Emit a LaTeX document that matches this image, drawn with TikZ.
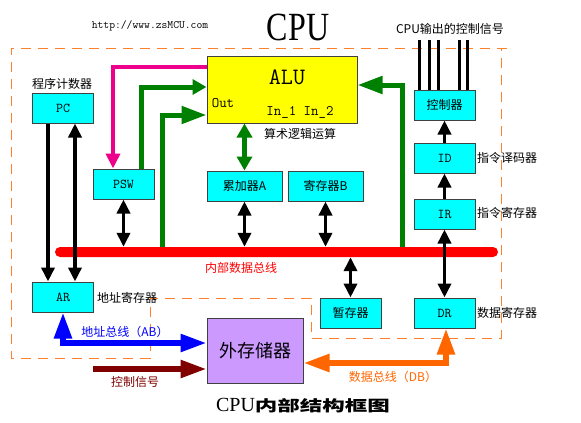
\documentclass[tikz,border=0pt]{standalone}
\usepackage{fontspec}
\setmainfont{Liberation Serif}
\newfontfamily\cjk{Noto Sans CJK SC}
\usepackage{xcolor}
\usepackage{tikz}
\usetikzlibrary{arrows.meta}
\definecolor{boxCyan}{HTML}{00FFFF}
\definecolor{aluYellow}{HTML}{FFFF00}
\definecolor{memPurple}{HTML}{CC99FF}
\definecolor{busGreen}{HTML}{008000}
\definecolor{ctlRed}{HTML}{800000}
\definecolor{dbOrange}{HTML}{FF6600}
\definecolor{dashOrange}{HTML}{FF7F2A}
\tikzstyle{tsBox} = [ 
    rectangle,
    draw=black!75,
    line width=1pt,
    fill=boxCyan,
    minimum width=61pt,
    minimum height=30pt,
    inner sep=0pt,
    font=\ttfamily\fontsize{13.5}{13.5}\selectfont]
\tikzstyle{tsCnBox} = [ 
    tsBox, 
    font=\cjk\fontsize{12}{12}\selectfont
]
\tikzstyle{tsCnText} = [ 
    inner sep=0pt, 
    font=\cjk\fontsize{12}{12}\selectfont
]
\tikzstyle{tsBlack} = [ 
    draw=black, 
    line width=3.5pt, 
    >={Triangle[length=14pt,width=13pt]}
]
\tikzstyle{tsGreen} = [ 
    draw=busGreen, 
    line width=5pt, 
    >={Triangle[length=14pt,width=15pt]}
]
\tikzstyle{tsGreenBig} = [ 
    tsGreen, 
    >={Triangle[length=25pt,width=17pt]}
]
\tikzstyle{tsMagenta} = [ 
    draw=magenta, 
    line width=4pt, 
    >={Triangle[length=15pt,width=14pt]}
]
\tikzstyle{tsBus} = [ 
    line width=5.5pt, 
    >={Triangle[length=26pt,width=17pt]}
]

\begin{document}
\begin{tikzpicture}[x=1pt, y=-1pt]
        \useasboundingbox (0,0) rectangle (581,423);

        \draw[dashOrange, line width=1pt, dash pattern=on 10pt off 7pt]
            (507,48) -- (11,48) -- (11,358) -- (150,358) -- (150,298)
            -- (311,298) -- (311,338) -- (501,338) -- (501,48);

        \node[fill=red, rounded corners=5pt, minimum width=443pt,
              minimum height=10pt, inner sep=0pt] (bus) at (276.5,252) { };

        \node[tsBox] (pc) at (63,108) {PC};
        \node[tsBox] (psw) at (123.5,184) {PSW};
        \node[  rectangle,
                draw=black!75,
                line width=1pt,
                fill=aluYellow,
                minimum width=150pt,
                minimum height=67pt] (alu) at (282,89.5) { };
        \node[tsCnBox, minimum width=75pt] (acc) at (244.5,186) {累加器A};
        \node[tsCnBox, minimum width=75pt] (regB) at (325.5,186) {寄存器B};
        \node[tsCnBox] (ctrl) at (444.5,105) {控制器};
        \node[tsBox] (id) at (444.5,158) {ID};
        \node[tsBox] (ir) at (444.5,214) {IR};
        \node[tsBox] (dr) at (444.5,313) {DR};
        \node[tsCnBox] (tmp) at (350.5,313) {暂存器};
        \node[tsBox] (ar) at (63,297) {AR};
        \node[  rectangle,
                draw=black!75,
                line width=1pt,
                fill=memPurple,
                minimum width=96pt,
                minimum height=65pt,
                font=\cjk\fontsize{18}{18}\selectfont] (mem) at (255,350.5) {外存储器};

        \node[font=\ttfamily\fontsize{23.5}{23.5}\selectfont] (aluName) at (287,77) {ALU};
        \node[font=\ttfamily\fontsize{14.5}{14.5}\selectfont] (aluOut) at (223,103) {Out};
        \node[font=\ttfamily\fontsize{14.5}{14.5}\selectfont] (aluIn) at (300,112) {In\_1 In\_2};

        \node[font=\ttfamily\fontsize{11.3}{11.3}\selectfont] (url) at (150,26) {http://www.zsMCU.com};
        \node (cpu) at (298,27) {\scalebox{0.8}[1]{\fontsize{40}{40}\selectfont CPU}};
        \node[tsCnText] (sigName) at (450,29) {CPU输出的控制信号};
        \node[tsCnText] (pcName) at (62,84) {程序计数器};
        \node[tsCnText] (aluNote) at (300,134) {算术逻辑运算};
        \node[tsCnText, anchor=west] (idName) at (477,158) {指令译码器};
        \node[tsCnText, anchor=west] (irName) at (477,213) {指令寄存器};
        \node[tsCnText, anchor=west] (drName) at (477,313) {数据寄存器};
        \node[tsCnText, anchor=west] (arName) at (97,298) {地址寄存器};
        \node[tsCnText, text=red] (busName) at (241,268) {内部数据总线};
        \node[tsCnText, text=blue] (abName) at (125,332) {地址总线（AB）};
        \node[tsCnText, text=ctlRed] (ctlName) at (135,382) {控制信号};
        \node[tsCnText, text=dbOrange] (dbName) at (393,377) {数据总线（DB）};
        \node (title) at (303,406) {\fontsize{20}{20}\selectfont CPU\scalebox{1.5}[1]{\cjk\bfseries\fontsize{15}{15}\selectfont 内部结构框图}};

        \draw[tsBlack,->] ([xshift=-15pt]pc.south) -- ([xshift=-15pt]ar.north);
        \draw[tsBlack,<->] ([xshift=12pt]ar.north) -- ([xshift=12pt]pc.south);
        \draw[tsBlack,<->] (psw.south) -- (psw.south |- bus.north);
        \draw[tsBlack,<->] (acc.south) -- (acc.south |- bus.north);
        \draw[tsBlack,<->] (regB.south) -- (regB.south |- bus.north);
        \draw[tsBlack,<->] (tmp.north) -- (tmp.north |- bus.south);
        \draw[tsBlack,<->] (ir.south) -- (dr.north);
        \draw[tsBlack,->] (ir.north) -- (id.south);
        \draw[tsBlack,->] (id.north) -- (ctrl.south);
        \foreach \dx in {-25.5,-15.5,-6.5,14.5,22.5}
            \draw[black, line width=3pt] ([xshift=\dx pt]ctrl.north) -- ++(0,-50);

        \coordinate (gBusA) at (162,247);
        \coordinate (gBusB) at (402,247);
        \draw[tsGreen,->] ([xshift=17.5pt]psw.north) |- ([yshift=2.5pt]alu.west);
        \draw[tsGreenBig,->] (gBusA) |- ([yshift=-25.5pt]alu.west);
        \draw[tsGreenBig,->] (gBusB) |- ([yshift=4.5pt]alu.east);
        \draw[tsGreen,<->] ([xshift=-37.5pt]alu.south) -- (acc.north);
        \draw[tsMagenta,->] ([yshift=22.5pt]alu.west) -| ([xshift=-10.5pt]psw.north);

        \coordinate (ctlIn) at (93,369);
        \draw[tsBus, draw=blue, <->] (ar.south) |- ([yshift=7.5pt]mem.west);
        \draw[tsBus, draw=ctlRed, ->] (ctlIn) -- (ctlIn -| mem.west);
        \draw[tsBus, draw=dbOrange, <->] ([xshift=1.5pt]dr.south) |- ([yshift=-12.5pt]mem.east);

       \end{tikzpicture}
\end{document}
